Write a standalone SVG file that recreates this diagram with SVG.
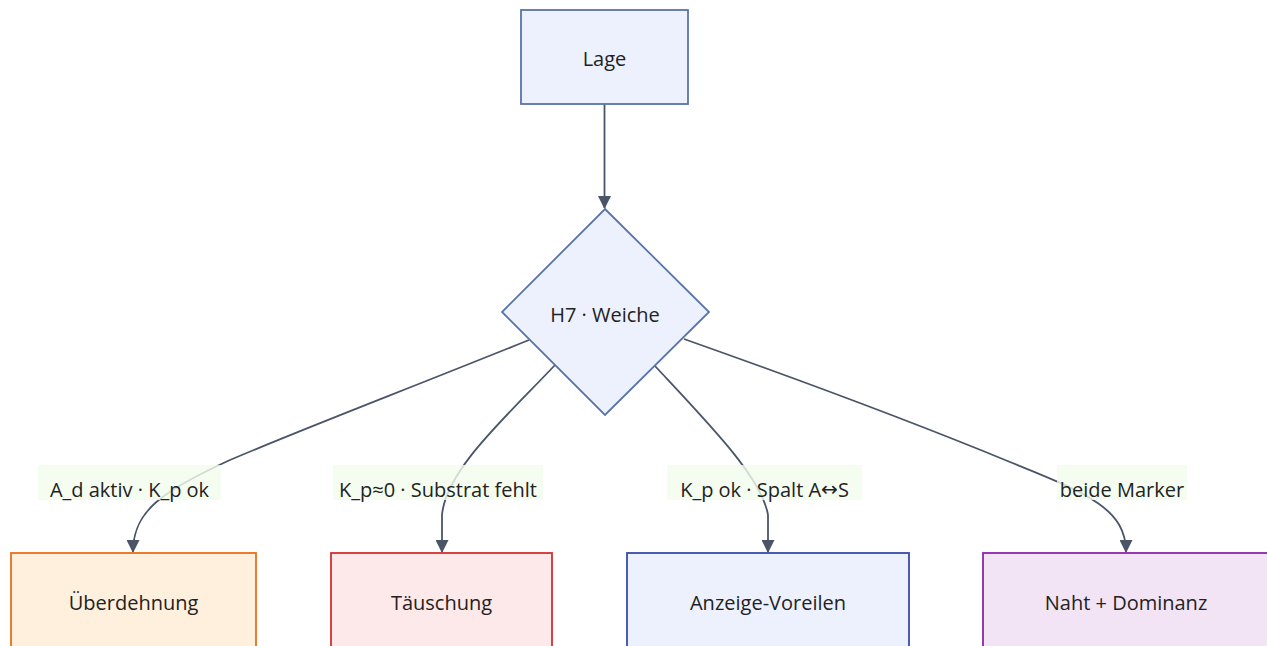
<svg xmlns="http://www.w3.org/2000/svg" width="1267" height="646" viewBox="0 0 1267 646">
  <defs>
    <marker id="arrow" viewBox="0 0 12 12" refX="11" refY="6" markerWidth="13" markerHeight="13" markerUnits="userSpaceOnUse" orient="auto">
      <path d="M0,0 L12,6 L0,12 z" fill="#4a5568"/>
    </marker>
    <style>
      text { font-family: "Open Sans", "Noto Sans", "Liberation Sans", sans-serif; font-size: 20px; fill: #222; text-anchor: middle; dominant-baseline: central; }
      .arr { font-family: "DejaVu Sans", sans-serif; }
      .edge { fill: none; stroke: #4a5568; stroke-width: 1.8; marker-end: url(#arrow); }
      .lbl-bg { fill: #f3fdee; opacity: 0.8; }
      .base { fill: #edf1fd; stroke: #5874a8; stroke-width: 1.8; }
    </style>
  </defs>

  <g id="edges">
    <path class="edge" d="M604.5,104 L604.5,208"/>
    <path class="edge" d="M529,340 C 400,392 300,430 230,460 C 160,492 133,512 133,552"/>
    <path class="edge" d="M555,365 C 505,418 446,470 442,515 L442,552"/>
    <path class="edge" d="M655,366 C 710,425 762,478 768,515 L768,552"/>
    <path class="edge" d="M684,339 C 800,380 920,425 1010,462 C 1090,494 1126,510 1126,552"/>
  </g>

  <g id="edge-labels">
    <g id="label-1"><rect class="lbl-bg" x="38" y="465" width="183" height="35"/><text x="129.5" y="489">A_d aktiv · K_p ok</text></g>
    <g id="label-2"><rect class="lbl-bg" x="333" y="465" width="210" height="35"/><text x="438" y="489">K_p≈0 · Substrat fehlt</text></g>
    <g id="label-3"><rect class="lbl-bg" x="667" y="465" width="195" height="35"/><text x="764.5" y="489">K_p ok · Spalt A<tspan class="arr">↔</tspan>S</text></g>
    <g id="label-4"><rect class="lbl-bg" x="1057" y="465" width="130" height="35"/><text x="1122" y="489">beide Marker</text></g>
  </g>

  <g id="node-lage">
    <rect class="base" x="521" y="10" width="167" height="94"/>
    <text x="604.5" y="58">Lage</text>
  </g>

  <g id="node-weiche">
    <polygon class="base" points="605,209 709,312 605,415 502,312"/>
    <text x="605" y="314">H7 · Weiche</text>
  </g>

  <g id="node-ueberdehnung">
    <rect x="11" y="553" width="245" height="98" fill="#fff0de" stroke="#e8701a" stroke-width="1.8"/>
    <text x="133.5" y="602">Überdehnung</text>
  </g>

  <g id="node-taeuschung">
    <rect x="331" y="553" width="221" height="98" fill="#fde8ea" stroke="#d32f2f" stroke-width="1.8"/>
    <text x="441.5" y="602">Täuschung</text>
  </g>

  <g id="node-voreilen">
    <rect x="627" y="553" width="282" height="98" fill="#edf1fd" stroke="#3949ab" stroke-width="1.8"/>
    <text x="768" y="602">Anzeige-Voreilen</text>
  </g>

  <g id="node-naht">
    <rect x="983" y="553" width="286" height="98" fill="#f2e4f5" stroke="#8e24aa" stroke-width="1.8"/>
    <text x="1126" y="602">Naht + Dominanz</text>
  </g>
</svg>
